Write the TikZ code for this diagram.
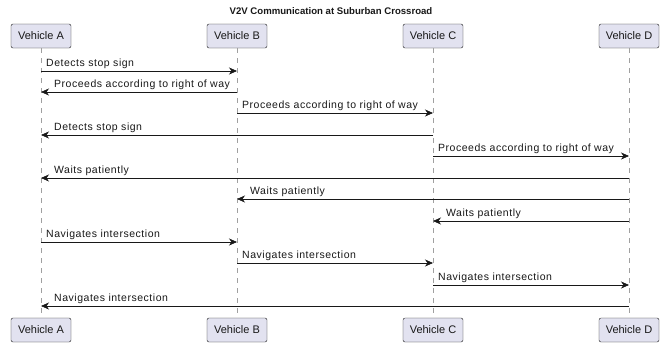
\documentclass[tikz,border=0pt]{standalone}
\usepackage{fontspec}
\setmainfont{Liberation Sans}
\usetikzlibrary{arrows.meta,positioning}
\definecolor{boxfill}{HTML}{E2E2F0}
\definecolor{ink}{HTML}{181818}
\definecolor{lline}{HTML}{A0A0A0}
\tikzset{
  veh/.style={draw=ink,fill=boxfill,rounded corners=2pt,minimum width=60pt,minimum height=24pt,inner sep=3pt,font=\fontsize{11}{13}\selectfont,text=ink},
  life/.style={draw=lline,dash pattern=on 5pt off 5pt,line width=0.6pt},
  msg/.style={draw=ink,line width=0.7pt,-{Stealth[length=8pt,width=7pt,inset=2.5pt]}},
  lab/.style={anchor=south west,inner sep=0pt,font=\fontsize{10.5}{12}\selectfont\addfontfeature{LetterSpace=5},text=ink},
}
\begin{document}
\begin{tikzpicture}[x=1pt,y=-1pt]
  \useasboundingbox (0,0) rectangle (663,343);
  \node[font=\bfseries\fontsize{9.6}{12}\selectfont,text=ink] (title) at (331,11) {V2V Communication at Suburban Crossroad};
  % participants, top and bottom
  \node[veh] (vA) at (41,36) {Vehicle A};
  \node[veh] (vB) at (237,36) {Vehicle B};
  \node[veh] (vC) at (433,36) {Vehicle C};
  \node[veh] (vD) at (629,36) {Vehicle D};
  \node[veh] (vAb) at (41,330) {Vehicle A};
  \node[veh] (vBb) at (237,330) {Vehicle B};
  \node[veh] (vCb) at (433,330) {Vehicle C};
  \node[veh] (vDb) at (629,330) {Vehicle D};
  \foreach \p in {vA,vB,vC,vD}
    \draw[life] (\p.south) -- (\p b.north);
  % messages
  \foreach \s/\d/\y/\t/\dir in {
      vA/vB/71/Detects stop sign/r,
      vB/vA/92/Proceeds according to right of way/l,
      vB/vC/113/Proceeds according to right of way/r,
      vC/vA/135/Detects stop sign/l,
      vC/vD/156/Proceeds according to right of way/r,
      vD/vA/178/Waits patiently/l,
      vD/vB/199/Waits patiently/l,
      vD/vC/221/Waits patiently/l,
      vA/vB/242/Navigates intersection/r,
      vB/vC/263/Navigates intersection/r,
      vC/vD/285/Navigates intersection/r,
      vD/vA/306/Navigates intersection/l}{
    \draw[msg] (\s |- 0,\y) -- (\d |- 0,\y);
    \if r\dir
      \node[lab] at ([xshift=5pt,yshift=2.5pt]\s |- 0,\y) {\t};
    \else
      \node[lab] at ([xshift=13pt,yshift=2.5pt]\d |- 0,\y) {\t};
    \fi
  }
\end{tikzpicture}
\end{document}
